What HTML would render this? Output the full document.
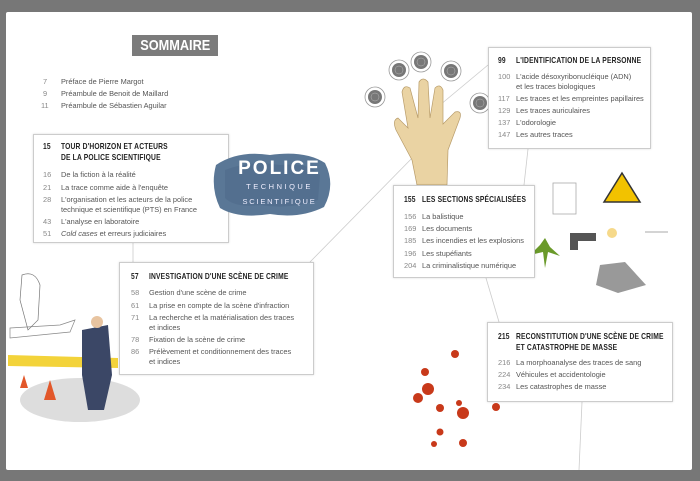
<!DOCTYPE html>
<html><head><meta charset="utf-8"><style>
*{margin:0;padding:0;box-sizing:border-box}
body{width:700px;height:481px;background:#777;position:relative;overflow:hidden;font-family:"Liberation Sans",sans-serif;color:#444}
.page{position:absolute;left:6px;top:12px;width:686px;height:458px;background:#fff;border-radius:2px}
.box{position:absolute;border:1px solid #ccc;background:#fff;box-shadow:0 0 2px rgba(0,0,0,.15)}
.t{position:absolute;font-size:7.4px;line-height:10px;white-space:nowrap;color:#555}
.n{position:absolute;font-size:7.4px;line-height:10px;color:#888}
.h{position:absolute;font-size:8.2px;line-height:11px;font-weight:bold;color:#222;transform:scaleX(.82);transform-origin:left;white-space:nowrap;letter-spacing:.2px}
svg{position:absolute;left:0;top:0}
</style></head><body>
<div class="page"></div>
<svg width="700" height="481">
<g stroke="#ccc" stroke-width="0.8" fill="none">
<line x1="133" y1="243" x2="133" y2="262"/>
<line x1="310" y1="262" x2="420" y2="150"/>
<line x1="440" y1="105" x2="488" y2="65"/>
<line x1="528" y1="149" x2="524" y2="185"/>
<line x1="486" y1="278" x2="499" y2="322"/>
<line x1="582" y1="402" x2="579" y2="470"/>
</g>
<!-- hand -->
<path d="M417 185 L412 160 L396 130 Q392 120 398 118 L408 128 L402 92 Q404 84 410 88 L418 118 L419 82 Q423 76 428 82 L430 118 L435 88 Q440 83 443 90 L443 124 L455 112 Q462 110 460 118 L448 150 L447 185 Z" fill="#ead3a3" stroke="#b89c6a" stroke-width=".7"/>
<g fill="#fff" stroke="#999" stroke-width=".8">
<circle cx="375" cy="97" r="10"/><circle cx="399" cy="70" r="10"/><circle cx="421" cy="62" r="10"/><circle cx="451" cy="71" r="10"/><circle cx="480" cy="103" r="10"/>
</g>
<g fill="#777"><circle cx="375" cy="97" r="7"/><circle cx="399" cy="70" r="7"/><circle cx="421" cy="62" r="7"/><circle cx="451" cy="71" r="7"/><circle cx="480" cy="103" r="7"/></g>
<g fill="none" stroke="#bbb" stroke-width=".5"><circle cx="375" cy="97" r="4"/><circle cx="399" cy="70" r="4"/><circle cx="421" cy="62" r="4"/><circle cx="451" cy="71" r="4"/><circle cx="480" cy="103" r="4"/></g>
<!-- doc, warning, gun, laptop -->
<rect x="553" y="183" width="23" height="31" fill="#fff" stroke="#aaa" stroke-width=".8"/>
<polygon points="622,173 604,202 640,202" fill="#f2c200" stroke="#333" stroke-width="1.5"/>
<rect x="570" y="233" width="26" height="8" fill="#555"/><rect x="570" y="238" width="8" height="12" fill="#555"/>
<circle cx="612" cy="233" r="5" fill="#f6d98a"/>
<line x1="645" y1="232" x2="668" y2="232" stroke="#aaa"/>
<polygon points="600,265 625,262 646,285 618,293 596,285" fill="#999"/>
<path d="M540 245 L530 255 L543 252 L545 268 L548 252 L560 256 L550 247 L545 238Z" fill="#6a9a2a"/>
<!-- blood -->
<g fill="#c8391a">
<circle cx="455" cy="354" r="4"/><circle cx="425" cy="372" r="4"/><circle cx="428" cy="389" r="6"/><circle cx="418" cy="398" r="5"/><circle cx="440" cy="408" r="4"/><circle cx="463" cy="413" r="6"/><circle cx="496" cy="407" r="4"/><circle cx="440" cy="432" r="3.5"/><circle cx="463" cy="443" r="4"/><circle cx="434" cy="444" r="3"/><circle cx="459" cy="403" r="3"/>
</g>
<!-- crime scene -->
<ellipse cx="80" cy="400" rx="60" ry="22" fill="#ddd"/>
<path d="M8 355 L118 358 L118 368 L8 366Z" fill="#f3d33a"/>
<polygon points="20,388 24,375 28,388" fill="#e2572a"/><polygon points="44,400 50,380 56,400" fill="#e2572a"/>
<path d="M82 330 L108 325 L112 375 L104 410 L88 410 L82 375Z" fill="#3b4766"/>
<circle cx="97" cy="322" r="6" fill="#e8c4a0"/>
<path d="M10 328 L60 325 L75 320 L70 332 L10 338Z" fill="none" stroke="#888" stroke-width=".7"/>
<path d="M22 275 Q35 270 40 285 L38 320 L28 330 L20 300Z" fill="none" stroke="#777" stroke-width=".7"/>
</svg>

<div style="position:absolute;left:132px;top:35px;width:86px;height:21px;background:#7b7b7b;color:#fff;font-weight:bold;font-size:15px;line-height:21px;text-align:center"><span style="display:inline-block;transform:scaleX(.85)">SOMMAIRE</span></div>

<div class="n" style="left:43px;top:77px">7</div><div class="t" style="left:61px;top:77px">Préface de Pierre Margot</div>
<div class="n" style="left:43px;top:89px">9</div><div class="t" style="left:61px;top:89px">Préambule de Benoit de Maillard</div>
<div class="n" style="left:41px;top:101px">11</div><div class="t" style="left:61px;top:101px">Préambule de Sébastien Aguilar</div>

<div class="box" style="left:33px;top:134px;width:196px;height:109px"></div>
<div class="h" style="left:43px;top:141px">15</div>
<div class="h" style="left:61px;top:141px">TOUR D'HORIZON ET ACTEURS<br>DE LA POLICE SCIENTIFIQUE</div>
<div class="n" style="left:43px;top:170px">16</div><div class="t" style="left:61px;top:170px">De la fiction à la réalité</div>
<div class="n" style="left:43px;top:183px">21</div><div class="t" style="left:61px;top:183px">La trace comme aide à l'enquête</div>
<div class="n" style="left:43px;top:195px">28</div><div class="t" style="left:61px;top:195px">L'organisation et les acteurs de la police<br>technique et scientifique (PTS) en France</div>
<div class="n" style="left:43px;top:217px">43</div><div class="t" style="left:61px;top:217px">L'analyse en laboratoire</div>
<div class="n" style="left:43px;top:229px">51</div><div class="t" style="left:61px;top:229px"><i>Cold cases</i> et erreurs judiciaires</div>

<svg width="700" height="481" style="pointer-events:none">
<path d="M216 165 Q238 150 270 155 Q305 150 325 163 Q336 185 324 207 Q300 219 270 214 Q238 219 220 208 Q210 187 216 165Z" fill="#5a7796"/>
<path d="M225 170 Q250 160 280 165 Q310 162 320 175 L318 200 Q290 210 260 205 Q235 208 225 198Z" fill="#4f6b8a" opacity=".6"/>
</svg>
<div style="position:absolute;left:232px;top:158px;width:95px;text-align:center;color:#fff;font-weight:bold;font-size:19px;letter-spacing:2px">POLICE</div>
<div style="position:absolute;left:232px;top:182px;width:95px;text-align:center;color:#eef;font-size:7.5px;letter-spacing:2.5px">TECHNIQUE</div>
<div style="position:absolute;left:232px;top:197px;width:95px;text-align:center;color:#eef;font-size:7.5px;letter-spacing:1.8px">SCIENTIFIQUE</div>

<div class="box" style="left:488px;top:47px;width:163px;height:102px"></div>
<div class="h" style="left:498px;top:55px">99</div>
<div class="h" style="left:516px;top:55px">L'IDENTIFICATION DE LA PERSONNE</div>
<div class="n" style="left:498px;top:72px">100</div><div class="t" style="left:516px;top:72px">L'acide désoxyribonucléique (ADN)<br>et les traces biologiques</div>
<div class="n" style="left:498px;top:94px">117</div><div class="t" style="left:516px;top:94px">Les traces et les empreintes papillaires</div>
<div class="n" style="left:498px;top:106px">129</div><div class="t" style="left:516px;top:106px">Les traces auriculaires</div>
<div class="n" style="left:498px;top:118px">137</div><div class="t" style="left:516px;top:118px">L'odorologie</div>
<div class="n" style="left:498px;top:130px">147</div><div class="t" style="left:516px;top:130px">Les autres traces</div>

<div class="box" style="left:393px;top:185px;width:142px;height:93px"></div>
<div class="h" style="left:404px;top:194px">155</div>
<div class="h" style="left:422px;top:194px">LES SECTIONS SPÉCIALISÉES</div>
<div class="n" style="left:404px;top:212px">156</div><div class="t" style="left:422px;top:212px">La balistique</div>
<div class="n" style="left:404px;top:224px">169</div><div class="t" style="left:422px;top:224px">Les documents</div>
<div class="n" style="left:404px;top:236px">185</div><div class="t" style="left:422px;top:236px">Les incendies et les explosions</div>
<div class="n" style="left:404px;top:249px">196</div><div class="t" style="left:422px;top:249px">Les stupéfiants</div>
<div class="n" style="left:404px;top:261px">204</div><div class="t" style="left:422px;top:261px">La criminalistique numérique</div>

<div class="box" style="left:119px;top:262px;width:195px;height:113px"></div>
<div class="h" style="left:131px;top:271px">57</div>
<div class="h" style="left:149px;top:271px">INVESTIGATION D'UNE SCÈNE DE CRIME</div>
<div class="n" style="left:131px;top:288px">58</div><div class="t" style="left:149px;top:288px">Gestion d'une scène de crime</div>
<div class="n" style="left:131px;top:301px">61</div><div class="t" style="left:149px;top:301px">La prise en compte de la scène d'infraction</div>
<div class="n" style="left:131px;top:313px">71</div><div class="t" style="left:149px;top:313px">La recherche et la matérialisation des traces<br>et indices</div>
<div class="n" style="left:131px;top:335px">78</div><div class="t" style="left:149px;top:335px">Fixation de la scène de crime</div>
<div class="n" style="left:131px;top:347px">86</div><div class="t" style="left:149px;top:347px">Prélèvement et conditionnement des traces<br>et indices</div>

<div class="box" style="left:487px;top:322px;width:186px;height:80px"></div>
<div class="h" style="left:498px;top:331px">215</div>
<div class="h" style="left:516px;top:331px">RECONSTITUTION D'UNE SCÈNE DE CRIME<br>ET CATASTROPHE DE MASSE</div>
<div class="n" style="left:498px;top:358px">216</div><div class="t" style="left:516px;top:358px">La morphoanalyse des traces de sang</div>
<div class="n" style="left:498px;top:370px">224</div><div class="t" style="left:516px;top:370px">Véhicules et accidentologie</div>
<div class="n" style="left:498px;top:382px">234</div><div class="t" style="left:516px;top:382px">Les catastrophes de masse</div>
</body></html>
